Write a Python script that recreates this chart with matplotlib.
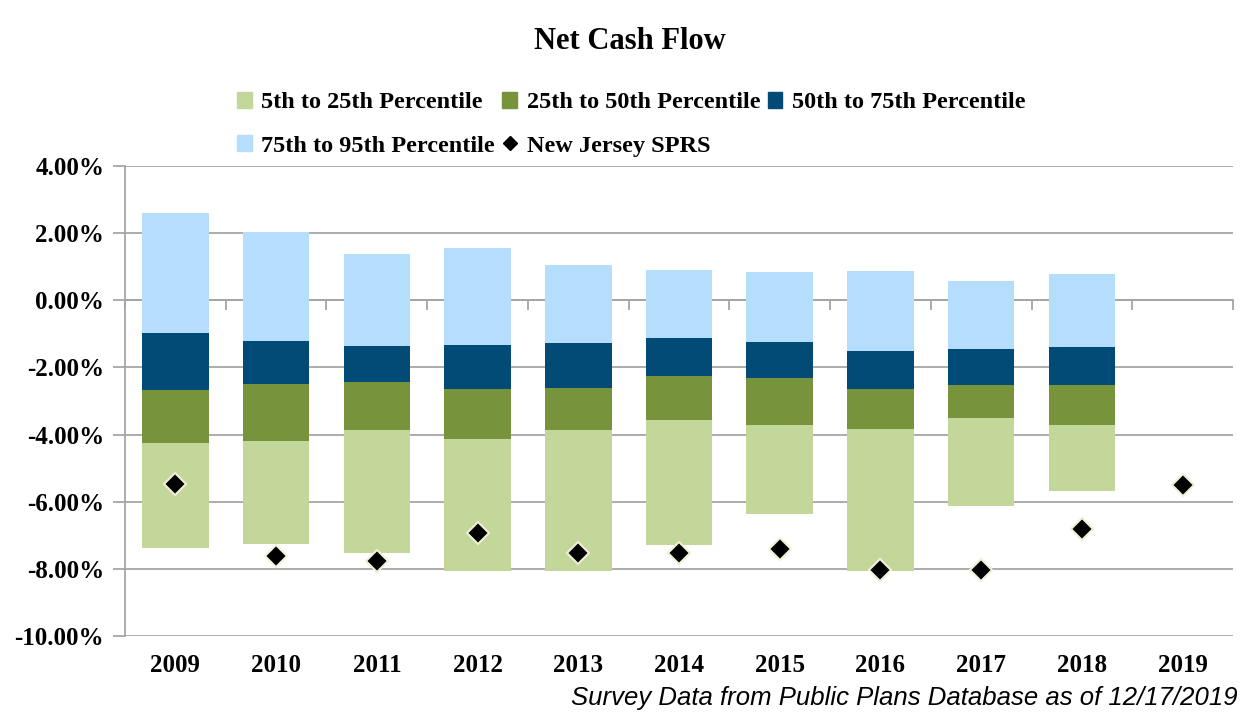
import numpy as np
import matplotlib.pyplot as plt
from matplotlib.patches import Patch
from matplotlib.lines import Line2D
from matplotlib.ticker import FuncFormatter

# Data (percent)
years = ["2009", "2010", "2011", "2012", "2013", "2014", "2015", "2016", "2017", "2018", "2019"]
p5 = [-7.39, -7.27, -7.54, -8.07, -8.07, -7.30, -6.37, -8.07, -6.14, -5.69, np.nan]
p25 = [-4.26, -4.20, -3.87, -4.14, -3.87, -3.57, -3.72, -3.84, -3.52, -3.72, np.nan]
p50 = [-2.68, -2.50, -2.44, -2.65, -2.62, -2.26, -2.32, -2.65, -2.53, -2.53, np.nan]
p75 = [-0.98, -1.22, -1.37, -1.34, -1.28, -1.13, -1.25, -1.52, -1.46, -1.40, np.nan]
p95 = [2.59, 2.03, 1.37, 1.55, 1.04, 0.89, 0.83, 0.86, 0.57, 0.77, np.nan]
nj_sprs = [-5.48, -7.63, -7.77, -6.94, -7.54, -7.54, -7.42, -8.04, -8.04, -6.82, -5.51]

series_names = ["5th to 25th Percentile", "25th to 50th Percentile",
                "50th to 75th Percentile", "75th to 95th Percentile"]
colors = ["#C4D79B", "#77933C", "#024B76", "#B4DEFB"]

serif = "Liberation Serif"
grid_col = "#A6A6A6"

fig = plt.figure(figsize=(12.5, 7.23), dpi=100)
ax = fig.add_axes([0.1, 0.1203, 0.8864, 0.6501])

x = np.arange(len(years))
lows = [p5, p25, p50, p75]
highs = [p25, p50, p75, p95]
for lo, hi, c, name in zip(lows, highs, colors, series_names):
    lo = np.array(lo)
    hi = np.array(hi)
    ax.bar(x, hi - lo, bottom=lo, width=0.66, color=c, zorder=2, label=name)

ax.plot(x, nj_sprs, linestyle="none", marker="D", markersize=11,
        markerfacecolor="black", markeredgecolor="#F0EFD8", markeredgewidth=1.5,
        zorder=4)

ax.set_xlim(-0.5, len(years) - 0.5)
ax.set_ylim(-10, 4)
ax.set_yticks(np.arange(-10, 4.1, 2))
ax.yaxis.set_major_formatter(FuncFormatter(lambda v, p: f"{v:.2f}%"))
ax.yaxis.grid(True, color=grid_col, linewidth=1.3, zorder=0)
ax.set_axisbelow(True)

for s in ["top", "right"]:
    ax.spines[s].set_visible(False)
ax.spines["left"].set_color(grid_col)
ax.spines["left"].set_linewidth(1.3)
ax.spines["bottom"].set_position(("data", 0))
ax.spines["bottom"].set_color(grid_col)
ax.spines["bottom"].set_linewidth(1.3)
ax.spines["bottom"].set_zorder(1)

ax.set_xticks(np.arange(-0.5, len(years), 1.0))
ax.set_xticklabels([])
ax.tick_params(axis="x", length=7, width=1.3, color=grid_col, direction="out")
ax.tick_params(axis="y", length=9, width=1.3, color=grid_col, direction="out",
               labelsize=18, pad=6)
for lab in ax.get_yticklabels():
    lab.set_fontfamily(serif)
    lab.set_fontweight("bold")

for xi, yr in zip(x, years):
    ax.annotate(yr, (xi, -10), xytext=(0, -21), textcoords="offset points",
                ha="center", va="center", fontsize=18, fontweight="bold",
                fontfamily=serif)

fig.text(0.504, 0.942, "Net Cash Flow", ha="center", va="center",
         fontsize=22, fontweight="bold", fontfamily=serif)

handles = [Patch(color=c) for c in colors]
handles.append(Line2D([], [], linestyle="none", marker="D", markersize=7,
                      markerfacecolor="black", markeredgecolor="black"))
labels = series_names + ["New Jersey SPRS"]
order = [0, 3, 1, 4, 2]
leg = fig.legend([handles[i] for i in order], [labels[i] for i in order],
                 ncol=3, loc="center", bbox_to_anchor=(0.505, 0.828),
                 frameon=False, handlelength=0.6, handleheight=0.6,
                 handletextpad=0.4, columnspacing=0.3, labelspacing=0.9,
                 prop={"family": serif, "weight": "bold", "size": 17.5})

fig.text(0.99, 0.034, "Survey Data from Public Plans Database as of 12/17/2019",
         ha="right", va="center", fontsize=18.5, style="italic",
         fontfamily="Liberation Sans")

fig.savefig("out.png", dpi=100)
